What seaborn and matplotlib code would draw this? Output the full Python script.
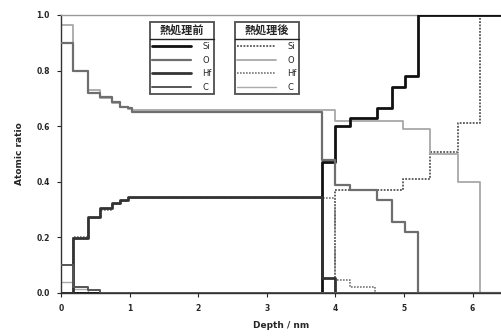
import matplotlib
matplotlib.use("Agg")
import matplotlib.pyplot as plt
import seaborn as sns
import pandas as pd
from matplotlib.lines import Line2D

# ---- data (step profiles: value holds from each depth until the next) ----
elements = ["Si", "O", "Hf", "C"]

depth_before = [0.0, 0.17, 0.39, 0.57, 0.74, 0.86, 0.98, 1.03, 3.80, 3.99, 4.21, 4.61, 4.83, 5.01, 5.20, 6.45]
si_before = [0.0, 0.0, 0.0, 0.0, 0.0, 0.0, 0.0, 0.0, 0.47, 0.60, 0.63, 0.665, 0.74, 0.78, 1.0, 1.0]
o_before = [0.90, 0.80, 0.72, 0.705, 0.687, 0.67, 0.665, 0.651, 0.48, 0.39, 0.37, 0.335, 0.255, 0.22, 0.0, 0.0]
hf_before = [0.0, 0.198, 0.273, 0.306, 0.324, 0.335, 0.345, 0.345, 0.054, 0.0, 0.0, 0.0, 0.0, 0.0, 0.0, 0.0]
c_before = [0.10, 0.02, 0.01, 0.0, 0.0, 0.0, 0.0, 0.0, 0.0, 0.0, 0.0, 0.0, 0.0, 0.0, 0.0, 0.0]

depth_after = [0.0, 0.17, 0.39, 0.57, 0.74, 0.86, 0.98, 1.03, 3.99, 4.21, 4.58, 4.99, 5.38, 5.79, 6.11, 6.45]
si_after = [0.0, 0.0, 0.0, 0.0, 0.0, 0.0, 0.0, 0.0, 0.37, 0.37, 0.37, 0.41, 0.507, 0.61, 1.0, 1.0]
o_after = [0.965, 0.80, 0.73, 0.70, 0.685, 0.67, 0.662, 0.658, 0.62, 0.62, 0.62, 0.59, 0.50, 0.40, 0.0, 0.0]
hf_after = [0.0, 0.20, 0.268, 0.30, 0.32, 0.33, 0.34, 0.343, 0.047, 0.02, 0.0, 0.0, 0.0, 0.0, 0.0, 0.0]
c_after = [0.04, 0.015, 0.0, 0.0, 0.0, 0.0, 0.0, 0.0, 0.0, 0.0, 0.0, 0.0, 0.0, 0.0, 0.0, 0.0]

legend_before = "熱処理前"
legend_after = "熱処理後"
x_ticks = [0, 1, 2, 3, 4, 5, 6]
y_ticks = [0.0, 0.2, 0.4, 0.6, 0.8, 1.0]

# ---- styles ----
style_before = {
    "Si": dict(color="#111111", lw=2.0, ls="-"),
    "O": dict(color="#6e6e6e", lw=1.6, ls="-"),
    "Hf": dict(color="#333333", lw=2.0, ls="-"),
    "C": dict(color="#555555", lw=1.4, ls="-"),
}
style_after = {
    "Si": dict(color="#555555", lw=1.3, ls=(0, (1, 0.8))),
    "O": dict(color="#a8a8a8", lw=1.3, ls="-"),
    "Hf": dict(color="#777777", lw=1.2, ls=(0, (1, 0.8))),
    "C": dict(color="#aaaaaa", lw=1.0, ls="-"),
}

sns.set_theme(style="ticks")
plt.rcParams["font.family"] = ["DejaVu Sans", "Noto Sans CJK JP"]

fig = plt.figure(figsize=(5.02, 3.36), dpi=100)
ax = fig.add_axes([61 / 502, 43 / 336, 1 - 61 / 502, 278 / 336])

before = {"Si": si_before, "O": o_before, "Hf": hf_before, "C": c_before}
after = {"Si": si_after, "O": o_after, "Hf": hf_after, "C": c_after}

for el in elements:
    df = pd.DataFrame({"depth": depth_after, "ratio": after[el]})
    st = style_after[el]
    sns.lineplot(data=df, x="depth", y="ratio", ax=ax, drawstyle="steps-post",
                 estimator=None, sort=False, color=st["color"], lw=st["lw"],
                 linestyle=st["ls"], zorder=2)
for el in elements:
    df = pd.DataFrame({"depth": depth_before, "ratio": before[el]})
    st = style_before[el]
    sns.lineplot(data=df, x="depth", y="ratio", ax=ax, drawstyle="steps-post",
                 estimator=None, sort=False, color=st["color"], lw=st["lw"],
                 linestyle=st["ls"], zorder=3)

ax.set_xlim(0, 6.43)
ax.set_ylim(0, 1.0)
ax.set_xticks(x_ticks)
ax.set_xticklabels([str(t) for t in x_ticks])
ax.set_yticks(y_ticks)
ax.set_yticklabels([f"{t:.1f}" for t in y_ticks])
ax.tick_params(axis="both", labelsize=5.5, length=3, width=0.8, direction="out", pad=5)
for lbl in ax.get_xticklabels() + ax.get_yticklabels():
    lbl.set_fontweight("bold")
ax.set_xlabel("Depth / nm", fontsize=6.5, labelpad=6, fontweight="bold")
ax.set_ylabel("Atomic ratio", fontsize=6.5, labelpad=9, fontweight="bold")
for side in ["left", "bottom", "top"]:
    ax.spines[side].set_visible(True)
    ax.spines[side].set_linewidth(1.0)
    ax.spines[side].set_color("#333333")
ax.spines["top"].set_color("#999999")
ax.spines["right"].set_visible(False)


def make_legend(styles, title, x0):
    handles = [Line2D([0], [0], **{"color": styles[e]["color"], "lw": styles[e]["lw"],
                                   "linestyle": styles[e]["ls"]}) for e in elements]
    leg = ax.legend(handles, elements, title=title, loc="upper left",
                    bbox_to_anchor=(x0, 0.975), fontsize=6, title_fontsize=8,
                    frameon=True, fancybox=False, edgecolor="#222222",
                    handlelength=4.6, handletextpad=1.4, labelspacing=0.55,
                    borderpad=0.3, borderaxespad=0)
    leg.get_title().set_fontfamily(["Noto Sans CJK JP", "DejaVu Sans"])
    leg.get_title().set_fontweight("bold")
    leg.get_frame().set_linewidth(1.3)
    return leg


leg1 = make_legend(style_before, legend_before, (150 - 61) / 441)
ax.add_artist(leg1)
leg2 = make_legend(style_after, legend_after, (235 - 61) / 441)

# separator line beneath each legend title
fig.canvas.draw()
renderer = fig.canvas.get_renderer()
inv = fig.transFigure.inverted()
for leg in (leg1, leg2):
    fb = leg.get_frame().get_window_extent(renderer)
    tb = leg.get_title().get_window_extent(renderer)
    y = tb.y0 - 2
    (x0, y0) = inv.transform((fb.x0, y))
    (x1, _) = inv.transform((fb.x1, y))
    fig.add_artist(Line2D([x0, x1], [y0, y0], color="#222222", lw=1.0,
                          transform=fig.transFigure, zorder=10))

fig.savefig("out.png", dpi=100)
